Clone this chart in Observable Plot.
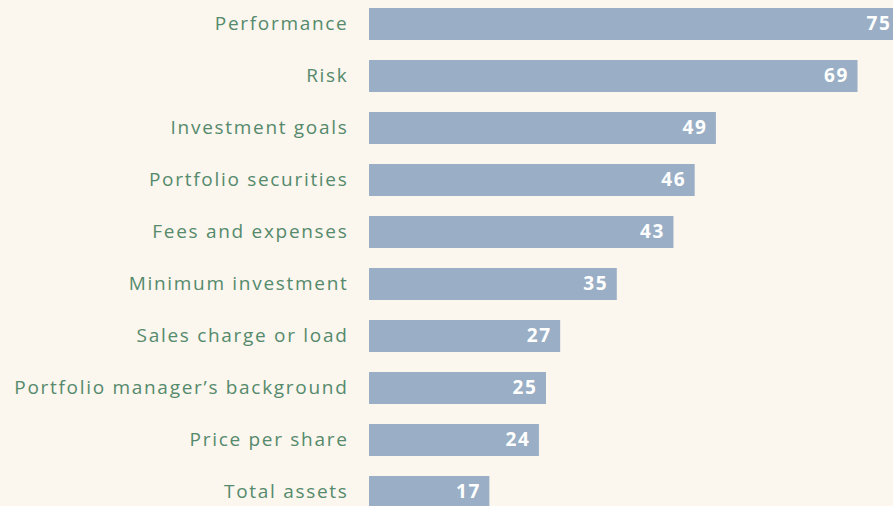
<!DOCTYPE html>
<html>
<head>
<meta charset="utf-8">
<script src="https://cdn.jsdelivr.net/npm/d3@7"></script>
<script src="https://cdn.jsdelivr.net/npm/@observablehq/plot@0.6"></script>
<style>
  html, body { margin: 0; padding: 0; background: #fbf6ee; overflow: hidden; }
  #chart svg { display: block; }
  .cat-label text { letter-spacing: 1.7px; }
  .val-label text { letter-spacing: 1.6px; }
</style>
</head>
<body>
<div id="chart"></div>
<script>
const categories = [
  "Performance",
  "Risk",
  "Investment goals",
  "Portfolio securities",
  "Fees and expenses",
  "Minimum investment",
  "Sales charge or load",
  "Portfolio manager’s background",
  "Price per share",
  "Total assets"
];
const values = [75, 69, 49, 46, 43, 35, 27, 25, 24, 17];

const data = categories.map((name, i) => ({name, value: values[i]}));

const chart = Plot.plot({
  width: 893,
  height: 506,
  marginLeft: 0,
  marginRight: 0,
  marginTop: 0,
  marginBottom: 0,
  style: {background: "#fbf6ee", fontFamily: "'Open Sans', sans-serif", overflow: "hidden"},
  x: {domain: [0, 75], range: [369, 900], axis: null},
  y: {domain: categories, range: [-13.3, 530], padding: 0.388, axis: null},
  marks: [
    Plot.barX(data, {x: "value", y: "name", fill: "#9aafc5"}),
    Plot.text(data, {
      x: 0, y: "name", text: "name",
      textAnchor: "end", dx: -21, dy: -1,
      fill: "#558a6c", fontSize: 19, className: "cat-label"
    }),
    Plot.text(data, {
      x: "value", y: "name", text: d => String(d.value),
      textAnchor: "end", dx: -9, dy: -1,
      fill: "white", fontWeight: "bold", fontSize: 19, className: "val-label"
    })
  ]
});
document.getElementById("chart").appendChild(chart);
</script>
</body>
</html>
